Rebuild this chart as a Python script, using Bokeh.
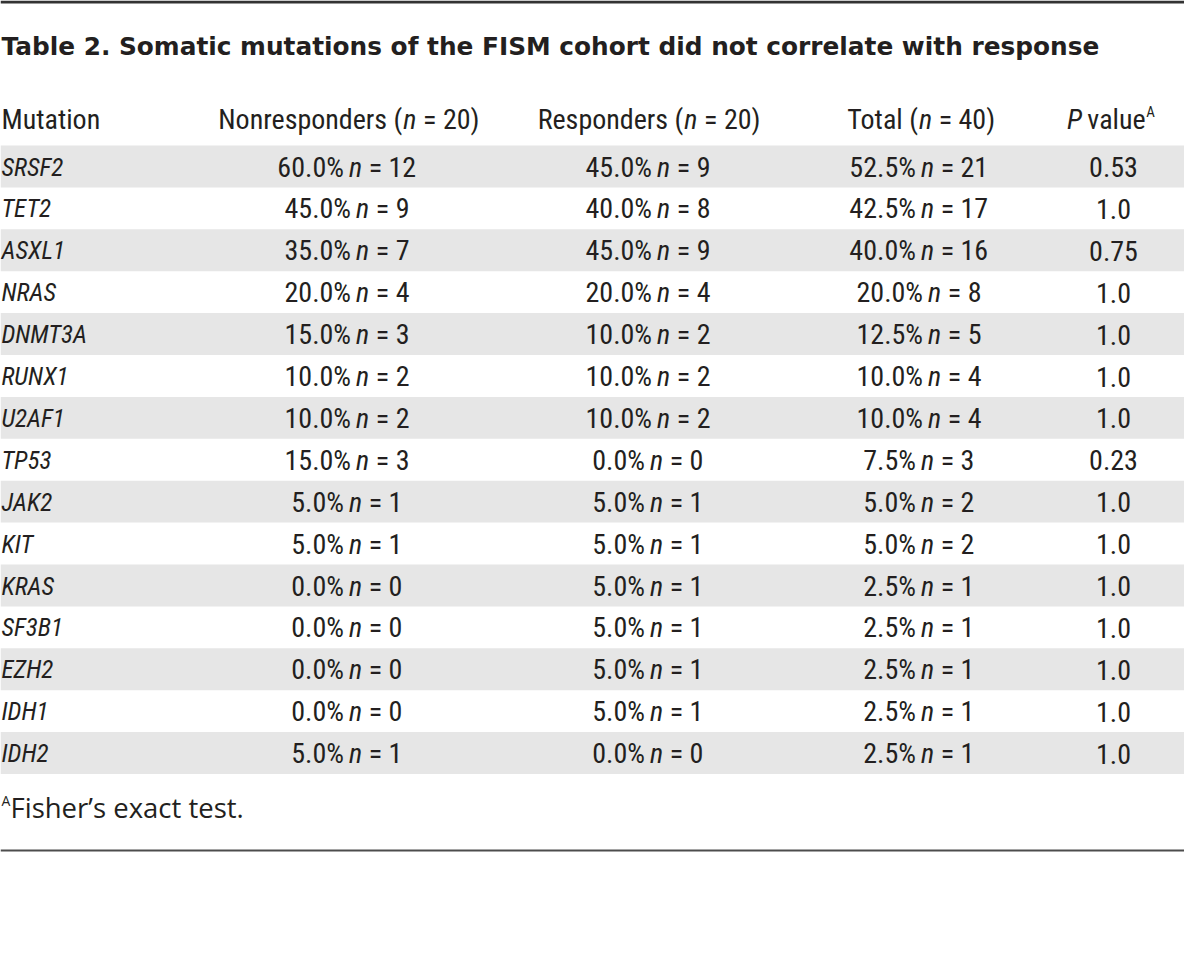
from bokeh.plotting import figure
from bokeh.models import Range1d, ColumnDataSource
from bokeh.core.properties import value
from bokeh.embed import file_html
from bokeh.resources import INLINE

# ---------------- data ----------------
title_text = "Table 2. Somatic mutations of the FISM cohort did not correlate with response"
col_headers = ["Mutation", "Nonresponders", "Responders", "Total", "P value"]
group_sizes = [20, 20, 40]
mutations = ["SRSF2", "TET2", "ASXL1", "NRAS", "DNMT3A", "RUNX1", "U2AF1", "TP53",
             "JAK2", "KIT", "KRAS", "SF3B1", "EZH2", "IDH1", "IDH2"]
nonresp_pct = [60.0, 45.0, 35.0, 20.0, 15.0, 10.0, 10.0, 15.0, 5.0, 5.0, 0.0, 0.0, 0.0, 0.0, 5.0]
nonresp_n = [12, 9, 7, 4, 3, 2, 2, 3, 1, 1, 0, 0, 0, 0, 1]
resp_pct = [45.0, 40.0, 45.0, 20.0, 10.0, 10.0, 10.0, 0.0, 5.0, 5.0, 5.0, 5.0, 5.0, 5.0, 0.0]
resp_n = [9, 8, 9, 4, 2, 2, 2, 0, 1, 1, 1, 1, 1, 1, 0]
total_pct = [52.5, 42.5, 40.0, 20.0, 12.5, 10.0, 10.0, 7.5, 5.0, 5.0, 2.5, 2.5, 2.5, 2.5, 2.5]
total_n = [21, 17, 16, 8, 5, 4, 4, 3, 2, 2, 1, 1, 1, 1, 1]
p_values = ["0.53", "1.0", "0.75", "1.0", "1.0", "1.0", "1.0", "0.23",
            "1.0", "1.0", "1.0", "1.0", "1.0", "1.0", "1.0"]
footnote_mark = "A"
footnote_text = "Fisher\u2019s exact test."

# ---------------- layout / style ----------------
W, H = 1184, 953
K = 1.0
FONT = "Roboto Condensed"
TITLE_FONT = "DejaVu Sans"
NOTE_FONT = "Open Sans"
INK = "#231f20"
SHADE = "#e6e6e6"
BODY = 28
NAME_SIZE = 25
COL_X = [1, 346, 647, 918, 1113]
TITLE_MID = 46
HEAD_MID = 119
ROW_TOP0 = 145
ROW_H = 41.9
MID_OFF = 21.5

CW = {"0": 0.51, "1": 0.51, "2": 0.51, "3": 0.51, "4": 0.51, "5": 0.51, "6": 0.51,
      "7": 0.51, "8": 0.51, "9": 0.51, ".": 0.24, "%": 0.66, "=": 0.49, " ": 0.22,
      "(": 0.31, ")": 0.31, "n": 0.49, "P": 0.55, "v": 0.43, "a": 0.47, "l": 0.22,
      "u": 0.49, "e": 0.46}


def tw(s, size):
    return sum(CW.get(c, 0.47 if c.islower() else 0.58) for c in s) * size * K


texts = []


def add(x, y, t, font, style, size, align="left", color=INK):
    texts.append((x, y, t, font, style, size, align, color))


def three_part(cx, y, pre, ital, post, size, g1=5, g2=6):
    wl, wn, wr = tw(pre, size), tw(ital, size), tw(post, size)
    total = wl + wn + wr + (g1 + g2) * K
    nx = cx - total / 2 + wl + g1 * K
    add(nx - g1 * K, y, pre, FONT, "normal", size, "right")
    add(nx, y, ital, FONT, "italic", size, "left")
    add(nx + wn + g2 * K, y, post, FONT, "normal", size, "left")


p = figure(width=W, height=H, x_range=Range1d(0, W), y_range=Range1d(H, 0),
           output_backend="svg", toolbar_location=None,
           x_axis_type=None, y_axis_type=None, min_border=0)
p.grid.visible = False
p.outline_line_color = None
p.background_fill_color = "white"
p.border_fill_color = "white"

# shaded rows
n_rows = len(mutations)
tops = [ROW_TOP0 + i * ROW_H for i in range(n_rows)]
shade_src = ColumnDataSource(dict(
    top=[tops[i] for i in range(0, n_rows, 2)],
    bottom=[tops[i] + ROW_H for i in range(0, n_rows, 2)]))
p.quad(left=0, right=1200, top="top", bottom="bottom", source=shade_src,
       fill_color=SHADE, line_color=None)

# rules
p.segment(x0=[0], y0=[1.5], x1=[1200], y1=[1.5], line_width=3, line_color="#333333")
p.segment(x0=[0], y0=[850], x1=[1200], y1=[850], line_width=2, line_color="#4d4d4d")

# title
add(1, TITLE_MID, title_text, TITLE_FONT, "bold", 24.8)

# headers
add(COL_X[0], HEAD_MID, col_headers[0], FONT, "normal", BODY)
for j in range(3):
    three_part(COL_X[j + 1], HEAD_MID, f"{col_headers[j + 1]} (", "n",
               f"= {group_sizes[j]})", BODY, g1=1, g2=6)
# P value header
wP = tw("P", BODY)
wv = tw("value", BODY)
tot = wP + 5 * K + wv + tw("A", 15)
x0 = 1110 - tot / 2
add(x0, HEAD_MID, "P", FONT, "italic", BODY)
add(x0 + wP + 5 * K, HEAD_MID, "value", FONT, "normal", BODY)
add(x0 + wP + 5 * K + wv + 1, HEAD_MID - 8, footnote_mark, FONT, "normal", 15)

# body rows
for i in range(n_rows):
    ym = tops[i] + MID_OFF
    add(COL_X[0], ym, mutations[i], FONT, "italic", NAME_SIZE)
    for j, (pc, nn) in enumerate([(nonresp_pct, nonresp_n), (resp_pct, resp_n),
                                  (total_pct, total_n)]):
        three_part(COL_X[j + 1], ym, f"{pc[i]:.1f}%", "n", f"= {nn[i]}", BODY)
    add(COL_X[4], ym, p_values[i], FONT, "normal", BODY, "center")

# footnote
add(1, 800, footnote_mark, NOTE_FONT, "normal", 14)
add(10, 807, footnote_text, NOTE_FONT, "normal", 27.5)

# draw grouped texts
groups = {}
for (x, y, t, font, style, size, align, color) in texts:
    groups.setdefault((font, style, size, align, color), []).append((x, y, t))
for (font, style, size, align, color), items in groups.items():
    src = ColumnDataSource(dict(x=[a[0] for a in items], y=[a[1] for a in items],
                                text=[a[2] for a in items]))
    p.text(x="x", y="y", text="text", source=src, text_font=value(font),
           text_font_style=style, text_font_size=f"{size}px", text_align=align,
           text_baseline="middle", text_color=color)

open("out.html", "w").write(file_html(p, INLINE))
